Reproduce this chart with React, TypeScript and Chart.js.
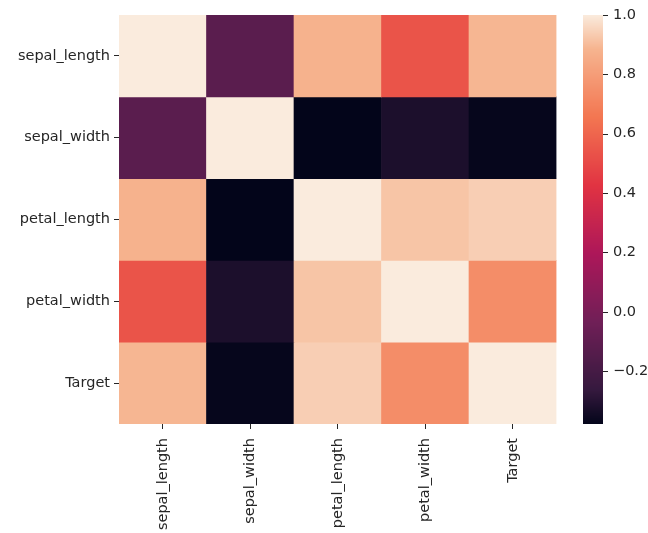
import React, { useEffect, useRef } from "react";
import { Chart, registerables } from "chart.js";

Chart.register(...registerables);

const labels = ["sepal_length", "sepal_width", "petal_length", "petal_width", "Target"];

const rowSepalLength = [1.0, -0.12, 0.88, 0.54, 0.89];
const rowSepalWidth = [-0.12, 1.0, -0.378, -0.32, -0.372];
const rowPetalLength = [0.88, -0.378, 1.0, 0.92, 0.94];
const rowPetalWidth = [0.54, -0.32, 0.92, 1.0, 0.74];
const rowTarget = [0.89, -0.372, 0.94, 0.74, 1.0];

const matrix = [rowSepalLength, rowSepalWidth, rowPetalLength, rowPetalWidth, rowTarget];

const colorbarTicks = [-0.2, 0.0, 0.2, 0.4, 0.6, 0.8, 1.0];

const VMIN = Math.min(...matrix.flat());
const VMAX = Math.max(...matrix.flat());

const rocketStops: [number, string][] = [
  [0.0, "#03051a"],
  [0.083, "#35193e"],
  [0.25, "#701f57"],
  [0.417, "#ad1759"],
  [0.583, "#e13342"],
  [0.75, "#f37651"],
  [0.917, "#f6b48f"],
  [1.0, "#faebdd"],
];

function hexToRgb(h: string) {
  const n = parseInt(h.slice(1), 16);
  return [(n >> 16) & 255, (n >> 8) & 255, n & 255];
}

function rocket(t: number) {
  t = Math.max(0, Math.min(1, t));
  for (let i = 0; i < rocketStops.length - 1; i++) {
    const [a, ca] = rocketStops[i];
    const [b, cb] = rocketStops[i + 1];
    if (t <= b) {
      const f = (t - a) / (b - a);
      const A = hexToRgb(ca);
      const B = hexToRgb(cb);
      const c = A.map((v, k) => Math.round(v + (B[k] - v) * f));
      return `rgb(${c[0]},${c[1]},${c[2]})`;
    }
  }
  return rocketStops[rocketStops.length - 1][1];
}

const colorFor = (v: number) => rocket((v - VMIN) / (VMAX - VMIN));

const FONT = { family: "DejaVu Sans", size: 14.5 };
const TEXT = "#262626";

const CB_X = 575;
const CB_W = 20;

const colorbarPlugin = {
  id: "colorbarPlugin",
  afterDraw(chart: any) {
    const scale = chart.scales.cb;
    const ctx = chart.ctx;
    const top = scale.getPixelForValue(VMAX);
    const bottom = scale.getPixelForValue(VMIN);
    ctx.save();
    for (let y = Math.floor(top); y < Math.ceil(bottom); y++) {
      const v = scale.getValueForPixel(y + 0.5);
      ctx.fillStyle = colorFor(v);
      ctx.fillRect(CB_X, y, CB_W, 1);
    }
    ctx.strokeStyle = TEXT;
    ctx.lineWidth = 1;
    for (const t of colorbarTicks) {
      const y = Math.round(scale.getPixelForValue(t)) + 0.5;
      ctx.beginPath();
      ctx.moveTo(CB_X + CB_W, y);
      ctx.lineTo(CB_X + CB_W + 5, y);
      ctx.stroke();
    }
    ctx.restore();
  },
};

const xLabelPlugin = {
  id: "xLabelPlugin",
  afterDraw(chart: any) {
    const scale = chart.scales.x;
    const ctx = chart.ctx;
    ctx.save();
    ctx.fillStyle = TEXT;
    ctx.font = `${FONT.size}px "${FONT.family}"`;
    ctx.textAlign = "right";
    ctx.textBaseline = "middle";
    labels.forEach((lab, i) => {
      const x = scale.getPixelForTick(i);
      const y = scale.top + 5 + 9;
      ctx.save();
      ctx.translate(x, y);
      ctx.rotate(-Math.PI / 2);
      ctx.fillText(lab, 0, 0);
      ctx.restore();
    });
    ctx.restore();
  },
};

export default function App() {
  const ref = useRef<HTMLCanvasElement | null>(null);
  useEffect(() => {
    if (!ref.current) return;
    const datasets = matrix.map((row, r) => ({
      label: labels[r],
      data: row.map(() => [r, r + 1]),
      backgroundColor: row.map((v) => colorFor(v)),
      borderWidth: 0,
      barPercentage: 1,
      categoryPercentage: 1,
      grouped: false,
    }));
    const chart = new Chart(ref.current, {
      type: "bar",
      data: { labels, datasets: datasets as any },
      plugins: [colorbarPlugin, xLabelPlugin],
      options: {
        responsive: false,
        animation: false,
        layout: { padding: { top: 7, left: 0, right: 0, bottom: 0 } },
        plugins: { legend: { display: false }, tooltip: { enabled: false } },
        scales: {
          x: {
            type: "category",
            position: "bottom",
            offset: true,
            border: { display: false },
            grid: {
              display: true,
              offset: false,
              drawOnChartArea: false,
              drawTicks: true,
              tickLength: 5,
              color: TEXT,
            },
            ticks: { display: false, autoSkip: false },
            afterFit(s: any) {
              s.height = 109;
              s.paddingLeft = 0;
              s.paddingRight = 0;
            },
          },
          y: {
            type: "linear",
            position: "left",
            min: 0,
            max: 5,
            reverse: true,
            border: { display: false },
            grid: {
              display: true,
              drawOnChartArea: false,
              drawTicks: true,
              tickLength: 5,
              color: TEXT,
            },
            ticks: {
              padding: 4,
              color: TEXT,
              font: FONT,
              callback: (_v: any, i: number) => labels[i],
            },
            afterBuildTicks(s: any) {
              s.ticks = labels.map((_, i) => ({ value: i + 0.5 }));
            },
            afterFit(s: any) {
              s.width = 111;
              s.paddingTop = 0;
              s.paddingBottom = 0;
            },
          },
          cb: {
            type: "linear",
            position: "right",
            min: VMIN,
            max: VMAX,
            border: { display: false },
            grid: { display: false, drawTicks: false, drawOnChartArea: false },
            ticks: {
              padding: 56.5,
              color: TEXT,
              font: FONT,
              callback: (v: any) => {
                const n = Number(v);
                return n < 0 ? "\u2212" + Math.abs(n).toFixed(1) : n.toFixed(1);
              },
            },
            afterBuildTicks(s: any) {
              s.ticks = colorbarTicks.map((v) => ({ value: v }));
            },
            afterFit(s: any) {
              s.width = 91.5;
              s.paddingTop = 0;
              s.paddingBottom = 0;
            },
          },
        },
      } as any,
    });
    return () => chart.destroy();
  }, []);
  return (
    <div style={{ position: "absolute", left: 8, top: 8, width: 640, height: 525 }}>
      <canvas ref={ref} width={640} height={525} style={{ display: "block" }} />
    </div>
  );
}
